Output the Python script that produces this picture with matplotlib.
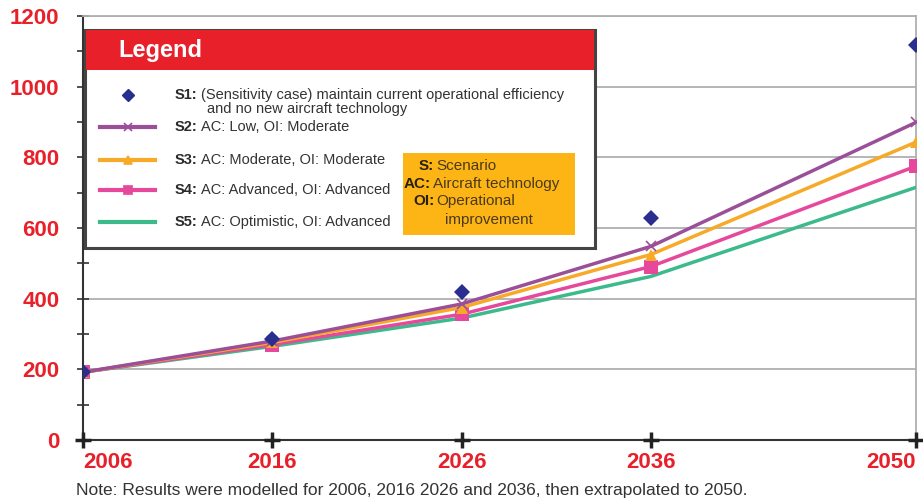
import matplotlib
matplotlib.use("Agg")
import matplotlib.pyplot as plt
from matplotlib.lines import Line2D
from matplotlib.patches import Rectangle

# data
# ====
years  = [2006, 2016, 2026, 2036, 2050]
s1     = [192, 285, 420, 628, 1118]
s2     = [192, 280, 385, 548, 899]
s3     = [192, 276, 375, 525, 843]
s4     = [192, 270, 356, 491, 775]
s5     = [192, 265, 345, 463, 715]
zeros  = [0, 0, 0, 0, 0]
yticks = [0, 200, 400, 600, 800, 1000, 1200]

legend_rows = [
    ("S1:", "(Sensitivity case) maintain current operational efficiency"),
    ("S2:", "AC: Low, OI: Moderate"),
    ("S3:", "AC: Moderate, OI: Moderate"),
    ("S4:", "AC: Advanced, OI: Advanced"),
    ("S5:", "AC: Optimistic, OI: Advanced"),
]
abbr_rows = [("S:", "Scenario"), ("AC:", "Aircraft technology"),
             ("OI:", "Operational")]

# styles
C1, C2, C3, C4, C5 = "#2a2f8f", "#9a4f98", "#f7a928", "#e6489b", "#3dba8c"
RED  = "#e8202a"
FONT = ["Liberation Sans", "DejaVu Sans"]
plt.rcParams["font.family"] = FONT

W, H = 923, 499
fig = plt.figure(figsize=(W / 100, H / 100), dpi=100)
ax = fig.add_axes([83 / W, 1 - 440 / H, (916 - 83) / W, (440 - 16) / H])

ax.plot(years, s5, color=C5, lw=2.5, zorder=3)
ax.plot(years, s4, color=C4, lw=2.5, marker="s", ms=10, mew=0, zorder=4)
ax.plot(years, s3, color=C3, lw=2.5, marker="^", ms=9, mew=0, zorder=5)
ax.plot(years, s2, color=C2, lw=2.5, marker="x", ms=7, mew=1.2, zorder=6)
ax.plot(years, s1, ls="none", color=C1, marker="D", ms=8, mew=0, zorder=7)
ax.plot(years, zeros, ls="none", color="#222222", marker="+", ms=11,
        mew=2.5, zorder=8, clip_on=False)

ax.set_xlim(2006, 2050)
ax.set_ylim(0, 1200)
ax.set_xticks(years)
ax.set_yticks(yticks)
ax.set_yticks(range(100, 1200, 200), minor=True)
ax.grid(axis="y", color="#b0b0b0", lw=1.3, zorder=0)
for side in ("top", "right"):
    ax.spines[side].set_color("#b0b0b0")
    ax.spines[side].set_linewidth(1.3)
for side in ("left", "bottom"):
    ax.spines[side].set_color("#333333")
    ax.spines[side].set_linewidth(1.5)
ax.tick_params(axis="y", which="both", direction="inout", length=8,
               color="#333333", width=1.2, pad=13, labelsize=16,
               labelcolor=RED)
ax.tick_params(axis="x", length=0, pad=9, labelsize=16, labelcolor=RED)
for t in ax.get_yticklabels():
    t.set_fontweight("bold")
xt = ax.get_xticklabels()
for t in xt:
    t.set_fontweight("bold")
xt[0].set_ha("left")
xt[-1].set_ha("right")

# note
fig.text(76 / W, 1 - 490 / H,
         "Note: Results were modelled for 2006, 2016 2026 and 2036, "
         "then extrapolated to 2050.",
         fontsize=12.5, color="#333333", va="center")

# legend box (figure pixel coordinates)
def px(x, y):
    return x / W, 1 - y / H

tr = fig.transFigure
rend = fig.canvas.get_renderer()


def tag_text(x, y, tag, txt, size, tcol, col, gap=3):
    t = fig.text(*px(x, y), tag, fontsize=size, fontweight="bold",
                 color=tcol, va="center", zorder=12)
    w = t.get_window_extent(rend).width
    fig.text(*px(x + w + gap, y), txt, fontsize=size, color=col,
             va="center", zorder=12)


fig.add_artist(Rectangle(px(85, 248), 510 / W, 218 / H, transform=tr,
                         facecolor="white", edgecolor="#444444", lw=2.2,
                         zorder=10))
fig.add_artist(Rectangle(px(86, 70), 508 / W, 40 / H, transform=tr,
                         facecolor=RED, edgecolor="none", zorder=11))
fig.text(*px(118, 51), "Legend", color="white", fontsize=17,
         fontweight="bold", va="center", zorder=12)

rows_y = [95, 127, 160, 190, 222]
cols   = [C2, C3, C4, C5]
marks  = ["x", "^", "s", None]
for i, ((tag, txt), y) in enumerate(zip(legend_rows, rows_y)):
    if i == 0:
        fig.add_artist(Line2D([128 / W], [1 - y / H], transform=tr,
                              marker="D", ms=6, color=C1, ls="none",
                              zorder=12))
    else:
        col, mk = cols[i - 1], marks[i - 1]
        fig.add_artist(Line2D([100 / W, 155 / W], [1 - y / H] * 2,
                              transform=tr, color=col, lw=3, zorder=12))
        if mk:
            fig.add_artist(Line2D([128 / W], [1 - y / H], transform=tr,
                                  color=col, marker=mk, ms=6, ls="none",
                                  mew=1.2, zorder=12))
    tag_text(175, y, tag, txt, 10.5, "#2a2a2a", "#333333")
fig.text(*px(207, 109), "and no new aircraft technology", fontsize=10.5,
         color="#333333", va="center", zorder=12)

# abbreviation box
fig.add_artist(Rectangle(px(403, 235), 172 / W, 82 / H, transform=tr,
                         facecolor="#fdb515", edgecolor="none", zorder=11))
for (tag, txt), x, y in zip(abbr_rows, [419, 404, 413], [166, 184, 201]):
    tag_text(x, y, tag, txt, 11, "#2a2010", "#4a3a1a", gap=2)
fig.text(*px(445, 220), "improvement", fontsize=11, color="#4a3a1a",
         va="center", zorder=12)

fig.savefig("out.png", dpi=100)
